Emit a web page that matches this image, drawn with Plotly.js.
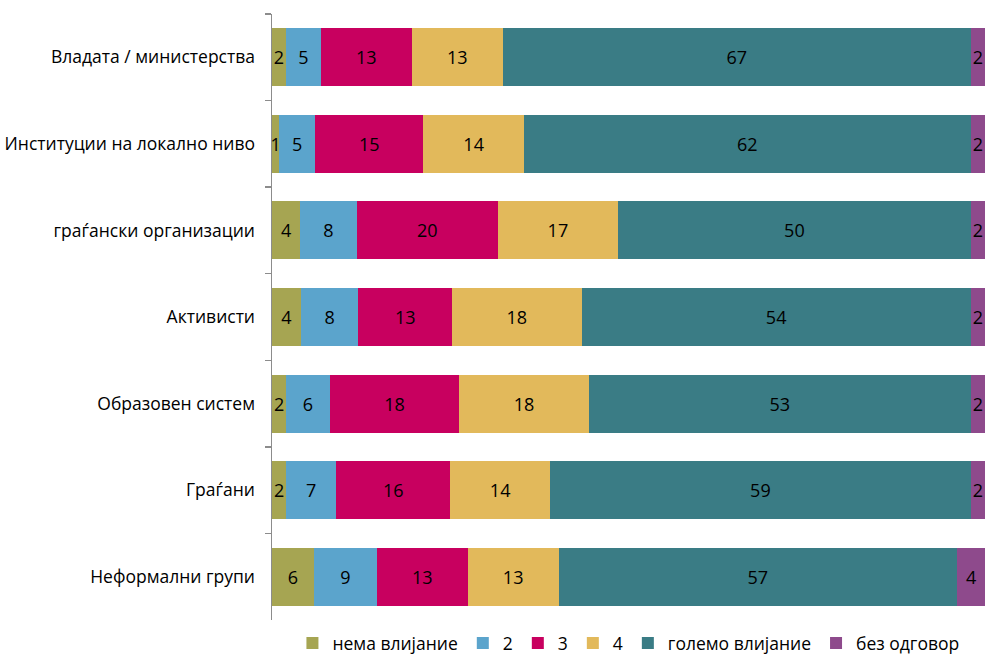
<!DOCTYPE html>
<html><head><meta charset="utf-8">
<script src="https://cdn.plot.ly/plotly-3.0.1.min.js"></script>
<style>html,body{margin:0;padding:0;background:#fff;overflow:hidden}</style>
</head><body><div id="chart" style="width:985px;height:658px"></div>
<script>
const categories = ["Владата / министерства","Институции на локално ниво","граѓански организации","Активисти","Образовен систем","Граѓани","Неформални групи"];
const seriesNames = ["нема влијание","2","3","4","големо влијание","без одговор"];
const nemaVlijanie = [2,1,4,4,2,2,6];
const s2 = [5,5,8,8,6,7,9];
const s3 = [13,15,20,13,18,16,13];
const s4 = [13,14,17,18,18,14,13];
const golemoVlijanie = [67,62,50,54,53,59,57];
const bezOdgovor = [2,2,2,2,2,2,4];
const colors = ["#A6A552","#5BA4CC","#C8005F","#E2B95B","#3A7C85","#8E4A8C"];
const series = [nemaVlijanie,s2,s3,s4,golemoVlijanie,bezOdgovor];
const FONT = "'Open Sans', sans-serif";
const traces = series.map((vals,i)=>({
  type:"bar", orientation:"h", name:seriesNames[i], y:categories, x:vals,
  marker:{color:colors[i], line:{width:0}},
  text:vals.map(String), textposition:"inside", insidetextanchor:"middle",
  constraintext:"none", textfont:{color:"#000", size:18, family:FONT},
  cliponaxis:false, hoverinfo:"x+name"
}));
Plotly.newPlot("chart", traces, {
  width:985, height:658, barmode:"stack", barnorm:"percent", bargap:0.33,
  margin:{l:272, r:0, t:14, b:38},
  paper_bgcolor:"#fff", plot_bgcolor:"#fff",
  font:{family:FONT, size:17.5, color:"#000"},
  xaxis:{visible:false, range:[0,100], fixedrange:true},
  yaxis:{autorange:"reversed", showline:true, linecolor:"#8c8c8c", linewidth:1.5,
    ticks:"outside", tickson:"boundaries", ticklen:6, tickcolor:"#8c8c8c", tickwidth:1.5,
    ticklabelstandoff:12, tickfont:{size:17.5, family:FONT, color:"#000"}, showgrid:false, zeroline:false},
  showlegend:true,
  legend:{orientation:"h", xref:"container", yref:"container", x:0.638, xanchor:"center", y:0.05, yanchor:"top",
    font:{size:17.5, family:FONT}, itemwidth:30, traceorder:"normal"}
}, {displayModeBar:false, staticPlot:true});
</script></body></html>
